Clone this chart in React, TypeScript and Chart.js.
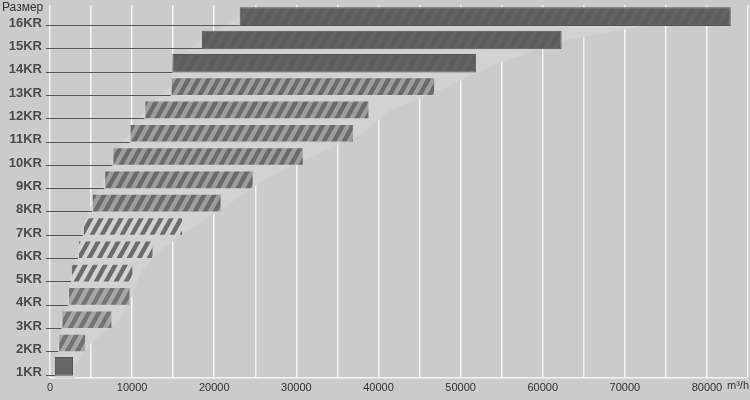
import React, { useEffect, useRef } from 'react';
import { Chart, ChartConfiguration, Plugin, registerables } from 'chart.js';

Chart.register(...registerables);

// sizes bottom -> top
const sizes = ['1KR', '2KR', '3KR', '4KR', '5KR', '6KR', '7KR', '8KR', '9KR', '10KR', '11KR', '12KR', '13KR', '14KR', '15KR', '16KR'];
// flow range, m³/h
const flowMin = [600, 1000, 1400, 2200, 2550, 3400, 4000, 5100, 6600, 7600, 9700, 11500, 14700, 14900, 18500, 23100];
const flowMax = [2800, 4400, 7600, 9800, 10150, 12600, 16200, 20900, 24800, 30900, 37000, 38900, 46900, 51900, 62300, 82900];
// right edge of the light wedge behind the bars
const glowTo = [3000, 5000, 8500, 10000, 11000, 13500, 17500, 22000, 26000, 32000, 38000, 41500, 48500, 54500, 63000, 78000];
const xTicks = [0, 10000, 20000, 30000, 40000, 50000, 60000, 70000, 80000];

const FONT = "'Liberation Sans', Arial, Helvetica, sans-serif";

const makePattern = (base: string | null, stripe: string): CanvasPattern | string => {
  const tile = document.createElement('canvas');
  tile.width = 10;
  tile.height = 18;
  const c = tile.getContext('2d');
  if (!c) return stripe;
  if (base) {
    c.fillStyle = base;
    c.fillRect(0, 0, 10, 18);
  }
  c.fillStyle = stripe;
  for (let k = -1; k <= 1; k++) {
    const o = k * 10;
    c.beginPath();
    c.moveTo(o, 18);
    c.lineTo(o + 5, 18);
    c.lineTo(o + 15, 0);
    c.lineTo(o + 10, 0);
    c.closePath();
    c.fill();
  }
  const ctx = document.createElement('canvas').getContext('2d');
  return (ctx && ctx.createPattern(tile, 'repeat')) || stripe;
};

const glowPlugin: Plugin<'bar'> = {
  id: 'glow',
  beforeDatasetsDraw(chart) {
    const { ctx, scales } = chart;
    const x = scales.x;
    const y = scales.y;
    const half = Math.abs(y.getPixelForValue(1) - y.getPixelForValue(0)) / 2;
    const last = sizes.length - 1;
    ctx.save();
    ctx.fillStyle = '#d2d2d2';
    ctx.beginPath();
    ctx.moveTo(x.getPixelForValue(glowTo[0]), y.getPixelForValue(0) + half);
    glowTo.forEach((v, i) => ctx.lineTo(x.getPixelForValue(v), y.getPixelForValue(i)));
    for (let i = last; i >= 0; i--) {
      ctx.lineTo(x.getPixelForValue(flowMin[i]), y.getPixelForValue(i));
    }
    ctx.lineTo(x.getPixelForValue(flowMin[0]), y.getPixelForValue(0) + half);
    ctx.closePath();
    ctx.fill();
    ctx.restore();
  },
};

const overlayPlugin: Plugin<'bar'> = {
  id: 'overlay',
  afterDraw(chart) {
    const { ctx, chartArea } = chart;
    const meta = chart.getDatasetMeta(0);
    ctx.save();
    // leader lines from labels to bar starts
    ctx.strokeStyle = '#555555';
    ctx.lineWidth = 1;
    meta.data.forEach((el: any) => {
      const yy = Math.round(el.y + el.height / 2) - 0.5;
      ctx.beginPath();
      ctx.moveTo(chartArea.left - 4, yy);
      ctx.lineTo(el.base, yy);
      ctx.stroke();
    });
    ctx.fillStyle = '#333333';
    ctx.font = `12px ${FONT}`;
    ctx.textBaseline = 'middle';
    ctx.textAlign = 'left';
    ctx.fillText('Размер', 2, 8);
    ctx.font = `11px ${FONT}`;
    ctx.fillText('m³/h', 727, 386);
    ctx.restore();
  },
};

const App: React.FC = () => {
  const canvasRef = useRef<HTMLCanvasElement>(null);
  const chartRef = useRef<Chart | null>(null);

  useEffect(() => {
    document.body.style.margin = '0';
    document.body.style.background = '#cbcbcb';
    if (!canvasRef.current) return;
    if (chartRef.current) chartRef.current.destroy();

    const ctx = canvasRef.current.getContext('2d');
    if (!ctx) return;

    const solid = makePattern('#5c5c5c', '#636363');
    const dark = makePattern('#9d9d9d', '#6a6a6a');
    const open = makePattern(null, '#6c6c6c');
    const medium = makePattern('#a6a6a6', '#737373');

    const fillFor = (i: number) => {
      if (i === 0) return '#676767';
      if (i <= 3) return medium;
      if (i <= 6) return open;
      if (i <= 12) return dark;
      return solid;
    };

    const config: ChartConfiguration<'bar'> = {
      type: 'bar',
      data: {
        labels: sizes,
        datasets: [{
          label: 'Размер',
          data: sizes.map((_, i) => [flowMin[i], flowMax[i]] as [number, number]),
          backgroundColor: sizes.map((_, i) => fillFor(i)) as any,
          borderColor: sizes.map((_, i) => (i === 0 || i >= 13 ? '#565656' : 'rgba(0,0,0,0)')),
          borderWidth: 1,
          borderSkipped: false,
          barPercentage: 0.8,
          categoryPercentage: 1,
        }],
      },
      options: {
        indexAxis: 'y',
        responsive: true,
        maintainAspectRatio: false,
        animation: false,
        layout: { padding: { top: 5, right: 2, left: 0, bottom: 0 } },
        plugins: {
          legend: { display: false },
          tooltip: { enabled: false },
        },
        scales: {
          x: {
            type: 'linear',
            min: 0,
            max: 85000,
            afterFit: (scale: any) => {
              scale.height = 22;
              scale.paddingLeft = 0;
              scale.paddingRight = 0;
            },
            afterBuildTicks: (scale) => {
              const t: { value: number }[] = [];
              for (let v = 0; v <= 85000; v += 5000) t.push({ value: v });
              scale.ticks = t as any;
            },
            grid: { color: '#f3f3f3', lineWidth: 1.5, drawTicks: false },
            border: { display: true, color: '#f3f3f3', width: 1.5 },
            ticks: {
              autoSkip: false,
              maxRotation: 0,
              padding: 3,
              color: '#333333',
              font: { family: FONT, size: 11 },
              callback: (v) => (xTicks.includes(Number(v)) ? String(v) : ''),
            },
          },
          y: {
            type: 'category',
            reverse: true,
            afterFit: (scale: any) => {
              scale.width = 50;
              scale.paddingTop = 0;
              scale.paddingBottom = 0;
            },
            grid: { display: false, drawTicks: false },
            border: { display: false },
            ticks: {
              padding: 8,
              labelOffset: 6.5,
              color: '#4a4a4a',
              font: { family: FONT, size: 13, weight: 'bold' },
            },
          },
        },
      },
      plugins: [glowPlugin, overlayPlugin],
    };

    chartRef.current = new Chart(ctx, config as any);

    return () => {
      if (chartRef.current) {
        chartRef.current.destroy();
        chartRef.current = null;
      }
    };
  }, []);

  return (
    <div style={{ position: 'relative', width: 750, height: 400, background: '#cbcbcb' }}>
      <canvas ref={canvasRef} aria-label="Размер / m³/h" />
    </div>
  );
};

export default App;
